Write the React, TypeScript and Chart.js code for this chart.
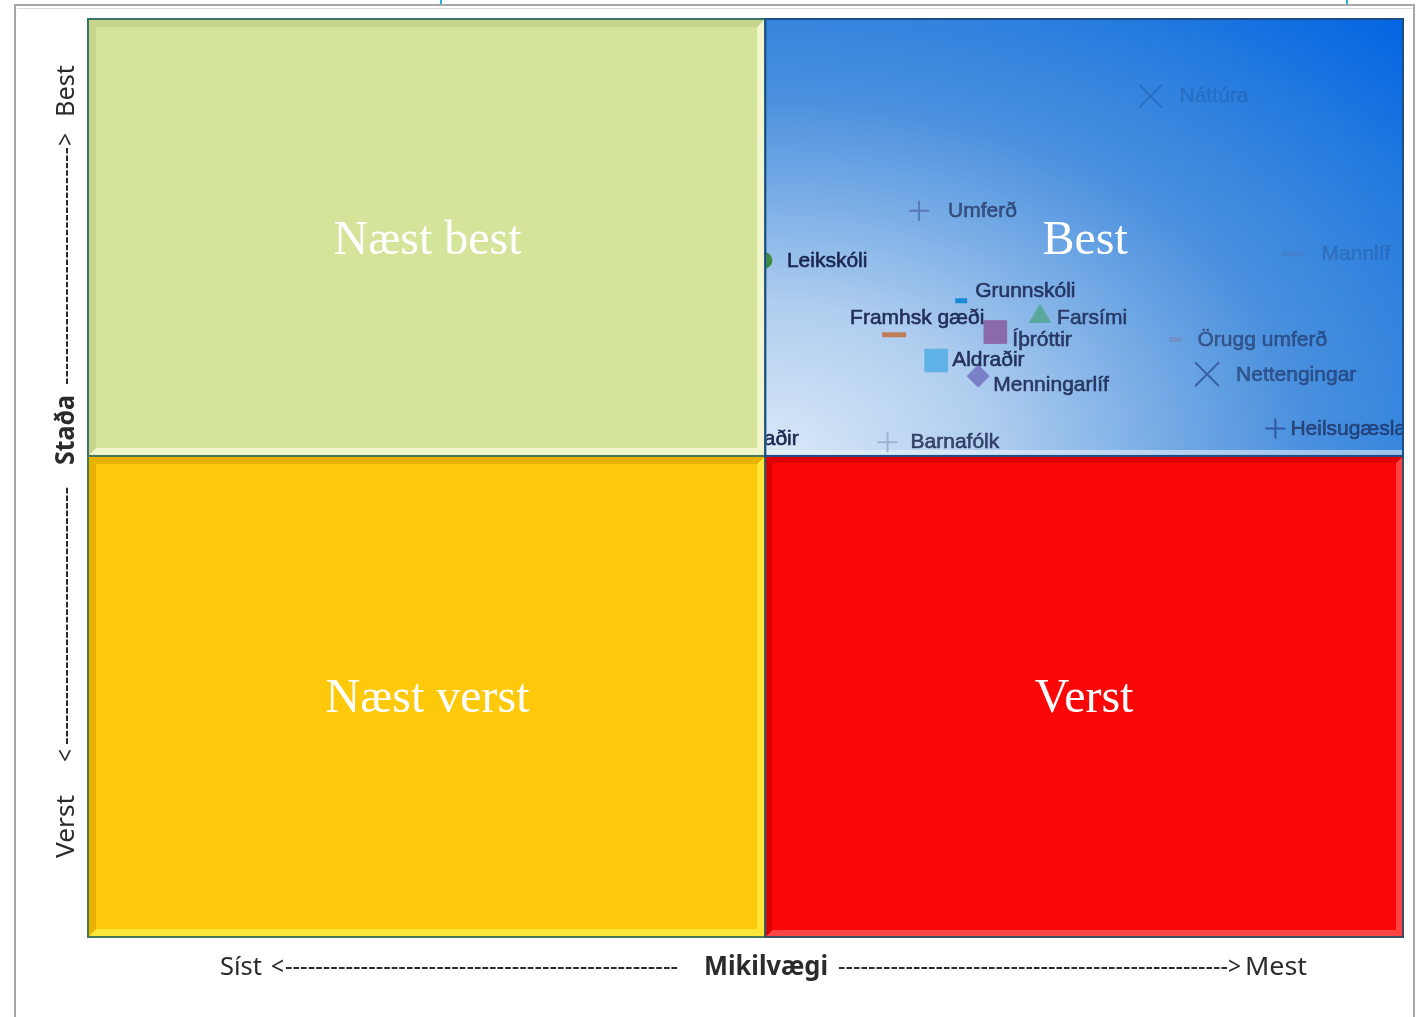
import React, { useEffect, useRef } from "react";
import { Chart, registerables } from "chart.js";

Chart.register(...registerables);

// ---- data ----
const pointNames = [
  "Náttúra",
  "Umferð",
  "Mannlíf",
  "Leikskóli",
  "Grunnskóli",
  "Framhsk gæði",
  "Farsími",
  "Íþróttir",
  "Aldraðir",
  "Menningarlíf",
  "Örugg umferð",
  "Nettengingar",
  "Heilsugæsla",
  "Barnafólk",
  "Fatlaðir",
];
// Mikilvægi (importance), 0..100
const importance = [80.8, 63.2, 91.6, 51.4, 66.4, 61.3, 72.4, 69.0, 64.5, 67.7, 82.7, 85.1, 90.3, 60.8, 46.9];
// Staða (status), 0..100
const status = [91.6, 79.1, 74.4, 73.7, 69.3, 65.6, 67.6, 65.9, 62.8, 61.1, 65.1, 61.3, 55.4, 53.9, 54.2];

const quadrantNames = ["Næst best", "Best", "Næst verst", "Verst"];
const xAxisWords = ["Síst", "Mikilvægi", "Mest"];
const yAxisWords = ["Verst", "Staða", "Best"];
const X_SPLIT = 51.5;
const Y_SPLIT = 52.4;

// ---- styles ----
const pointStyles = ["crossRot", "cross", "line", "circle", "line", "line", "triangle", "rect", "rect", "rectRot", "line", "crossRot", "cross", "cross", "circle"];
const pointRadii = [16, 10, 11, 8, 6, 12, 12, 16, 16, 11, 6.5, 17, 10, 10, 8];
const pointBorderWidths = [2, 2, 5, 1, 5, 5, 1, 1, 1, 1, 5, 2, 2, 2, 1];
const pointColors = [
  "rgba(30,70,150,0.35)",
  "#5878b6",
  "rgba(70,120,190,0.45)",
  "#3c8a3c",
  "#1a8ad4",
  "#c07c56",
  "#5aa89c",
  "#8a6aaa",
  "#5eb2e6",
  "#7a80c8",
  "#7090c8",
  "#3a62a8",
  "#2d58a6",
  "#9cb2d0",
  "#3a7ac0",
];
const labelOffsets = [[29, 0], [29, 0], [29, 0], [23, 1], [14, -10], [-44, -17], [17, 2], [17, 8], [16, 0], [15, 9], [22, 1], [29, 1], [15, 1], [23, 0], [24, 0]];
const labelOpacity = [0.14, 0.62, 0.16, 0.95, 0.82, 0.9, 0.78, 0.82, 0.88, 0.82, 0.5, 0.52, 0.62, 0.78, 0.95];

function bevelRect(ctx, x0, y0, x1, y1, base, dark, light, w) {
  ctx.fillStyle = base;
  ctx.fillRect(x0, y0, x1 - x0, y1 - y0);
  const poly = (pts, c) => {
    ctx.beginPath();
    ctx.moveTo(pts[0][0], pts[0][1]);
    for (let i = 1; i < pts.length; i++) ctx.lineTo(pts[i][0], pts[i][1]);
    ctx.closePath();
    ctx.fillStyle = c;
    ctx.fill();
  };
  poly([[x0, y1], [x0 + w, y1 - w], [x1 - w, y1 - w], [x1, y1]], light);
  poly([[x1, y0], [x1, y1], [x1 - w, y1 - w], [x1 - w, y0 + w]], light);
  poly([[x0, y0], [x1, y0], [x1 - w, y0 + w], [x0 + w, y0 + w]], dark);
  poly([[x0, y0], [x0 + w, y0 + w], [x0 + w, y1 - w], [x0, y1]], dark);
}

function fillBlue(ctx, M, T, R, C) {
  const rx = 900;
  const ry = 600;
  ctx.save();
  ctx.beginPath();
  ctx.rect(M, T, R - M, C - T);
  ctx.clip();
  ctx.translate(M, C);
  ctx.scale(1, ry / rx);
  const g = ctx.createRadialGradient(0, 0, 0, 0, 0, rx);
  g.addColorStop(0, "#dae9f8");
  g.addColorStop(0.25, "#b0ceef");
  g.addColorStop(0.45, "#74aae5");
  g.addColorStop(0.6, "#4a90de");
  g.addColorStop(0.78, "#2c80de");
  g.addColorStop(1, "#0466e2");
  ctx.fillStyle = g;
  ctx.fillRect(-10, -((C - T) * rx) / ry - 10, R - M + 20, ((C - T) * rx) / ry + 20);
  ctx.restore();
}

function fitText(ctx, text, x, y, width) {
  const w = ctx.measureText(text).width;
  ctx.save();
  ctx.translate(x, y);
  ctx.scale(width / w, 1);
  ctx.fillText(text, 0, 0);
  ctx.restore();
}

function dashes(ctx, x, y, width) {
  const one = ctx.measureText("-").width;
  const n = Math.max(1, Math.round(width / (one * 0.9)));
  fitText(ctx, "-".repeat(n), x, y, width);
}

function quadRects(chart) {
  const xs = chart.scales.x;
  const ys = chart.scales.y;
  const L = xs.getPixelForValue(0);
  const M = xs.getPixelForValue(X_SPLIT);
  const R = xs.getPixelForValue(100);
  const T = ys.getPixelForValue(100);
  const C = ys.getPixelForValue(Y_SPLIT);
  const B = ys.getPixelForValue(0);
  return { L, M, R, T, C, B };
}

const quadrantPlugin = {
  id: "quadrants",
  beforeDraw(chart) {
    const ctx = chart.ctx;
    ctx.save();
    ctx.fillStyle = "#ffffff";
    ctx.fillRect(0, 0, chart.width, chart.height);
    const { L, M, R, T, C, B } = quadRects(chart);
    bevelRect(ctx, L, T, M, C, "#d4e59b", "#c6d48c", "#f2f6cf", 8);
    bevelRect(ctx, L, C, M, B, "#fdc90a", "#e8b200", "#ffe63a", 8);
    bevelRect(ctx, M, C, R, B, "#fb0707", "#dc0000", "#ff4444", 7);
    fillBlue(ctx, M, T, R, C);
    // faint light strip at the bottom of the blue area
    ctx.fillStyle = "rgba(235,244,252,0.55)";
    ctx.fillRect(M, C - 6, R - M, 5);
    ctx.restore();
  },
  beforeDatasetsDraw(chart) {
    const ctx = chart.ctx;
    const { M, R, T, C } = quadRects(chart);
    ctx.save();
    ctx.beginPath();
    ctx.rect(M + 1, T, R - M - 1, C - T);
    ctx.clip();
  },
  afterDatasetsDraw(chart) {
    const ctx = chart.ctx;
    const { L, M, R, T, C, B } = quadRects(chart);
    const meta = chart.getDatasetMeta(0);
    ctx.font = "21px 'Liberation Sans', Arial, sans-serif";
    ctx.textBaseline = "middle";
    ctx.textAlign = "left";
    ctx.fillStyle = "#16204a";
    ctx.strokeStyle = "#16204a";
    ctx.lineWidth = 0.6;
    meta.data.forEach((el, i) => {
      const o = labelOffsets[i];
      ctx.globalAlpha = labelOpacity[i];
      ctx.fillText(pointNames[i], el.x + o[0], el.y + o[1]);
      ctx.strokeText(pointNames[i], el.x + o[0], el.y + o[1]);
    });
    ctx.globalAlpha = 1;
    ctx.restore();

    ctx.save();
    // quadrant borders
    ctx.lineWidth = 2;
    ctx.strokeStyle = "#3a7468";
    ctx.strokeRect(L, T, M - L, C - T);
    ctx.strokeStyle = "#4a7a55";
    ctx.strokeRect(L, C, M - L, B - C);
    ctx.strokeStyle = "#3d4e63";
    ctx.strokeRect(M, C, R - M, B - C);
    ctx.strokeStyle = "#1d4f86";
    ctx.strokeRect(M, T, R - M, C - T);

    // quadrant names
    ctx.fillStyle = "#ffffff";
    ctx.font = "48px 'Liberation Serif', 'Times New Roman', serif";
    ctx.textAlign = "center";
    ctx.textBaseline = "middle";
    const cx1 = (L + M) / 2;
    const cx2 = (M + R) / 2;
    const cy1 = (T + C) / 2 + 4;
    const cy2 = (C + B) / 2 + 3;
    ctx.fillText(quadrantNames[0], cx1 + 1, cy1);
    ctx.fillText(quadrantNames[1], cx2 + 1, cy1);
    ctx.fillText(quadrantNames[2], cx1 + 1, cy2);
    ctx.fillText(quadrantNames[3], cx2, cy2);
    ctx.restore();
  },
  afterDraw(chart) {
    const ctx = chart.ctx;
    ctx.save();
    // page frame
    ctx.strokeStyle = "#a8a8a8";
    ctx.lineWidth = 2;
    ctx.beginPath();
    ctx.moveTo(15, 1017);
    ctx.lineTo(15, 5);
    ctx.lineTo(1414, 5);
    ctx.lineTo(1414, 1017);
    ctx.stroke();
    ctx.strokeStyle = "#dcdcdc";
    ctx.lineWidth = 1;
    ctx.beginPath();
    ctx.moveTo(17, 8.5);
    ctx.lineTo(1412, 8.5);
    ctx.stroke();
    ctx.strokeStyle = "#1fb4d4";
    ctx.lineWidth = 2;
    ctx.beginPath();
    ctx.moveTo(441, 0);
    ctx.lineTo(441, 4);
    ctx.moveTo(1347, 0);
    ctx.lineTo(1347, 4);
    ctx.stroke();

    // x axis title
    const reg = "26px 'Noto Sans', 'Open Sans', sans-serif";
    const bold = "bold 26px 'Noto Sans', 'Open Sans', sans-serif";
    ctx.fillStyle = "#2b2b2b";
    ctx.textBaseline = "middle";
    ctx.textAlign = "left";
    const yb = 968;
    ctx.font = reg;
    fitText(ctx, xAxisWords[0], 220, yb, 42);
    fitText(ctx, "<", 271, yb, 13);
    dashes(ctx, 285, yb, 393);
    ctx.font = bold;
    fitText(ctx, xAxisWords[1], 704, yb, 124);
    ctx.font = reg;
    dashes(ctx, 838, yb, 390);
    fitText(ctx, ">", 1228, yb, 13);
    fitText(ctx, xAxisWords[2], 1245, yb, 62);

    // y axis title (rotated)
    ctx.save();
    ctx.translate(67, 0);
    ctx.rotate(-Math.PI / 2);
    ctx.font = reg;
    fitText(ctx, yAxisWords[0], -858, 0, 63);
    fitText(ctx, "<", -762, 0, 13);
    dashes(ctx, -745, 0, 258);
    ctx.font = bold;
    fitText(ctx, yAxisWords[1], -465, 0, 70);
    ctx.font = reg;
    dashes(ctx, -385, 0, 238);
    fitText(ctx, ">", -146, 0, 13);
    fitText(ctx, yAxisWords[2], -117, 0, 52);
    ctx.restore();
    ctx.restore();
  },
};

export default function App() {
  const ref = useRef<HTMLCanvasElement | null>(null);
  useEffect(() => {
    if (!ref.current) return;
    const chart = new Chart(ref.current, {
      type: "scatter",
      data: {
        datasets: [
          {
            label: "Staða / Mikilvægi",
            data: importance.map((x, i) => ({ x, y: status[i] })),
            pointStyle: pointStyles as any,
            pointRadius: pointRadii,
            pointHoverRadius: pointRadii,
            pointBorderWidth: pointBorderWidths,
            pointBackgroundColor: pointColors,
            pointBorderColor: pointColors,
          },
        ],
      },
      options: {
        responsive: false,
        animation: false,
        events: [],
        layout: { padding: { left: 88, right: 20, top: 14, bottom: 80 } },
        scales: {
          x: { type: "linear", min: 0, max: 100, display: false },
          y: { type: "linear", min: 0, max: 100, display: false },
        },
        plugins: {
          legend: { display: false },
          tooltip: { enabled: false },
        },
      },
      plugins: [quadrantPlugin],
    });
    return () => chart.destroy();
  }, []);
  return (
    <div style={{ position: "absolute", left: 0, top: 0, width: 1423, height: 1017, background: "#fff" }}>
      <canvas ref={ref} width={1423} height={1017} style={{ display: "block" }} />
    </div>
  );
}
